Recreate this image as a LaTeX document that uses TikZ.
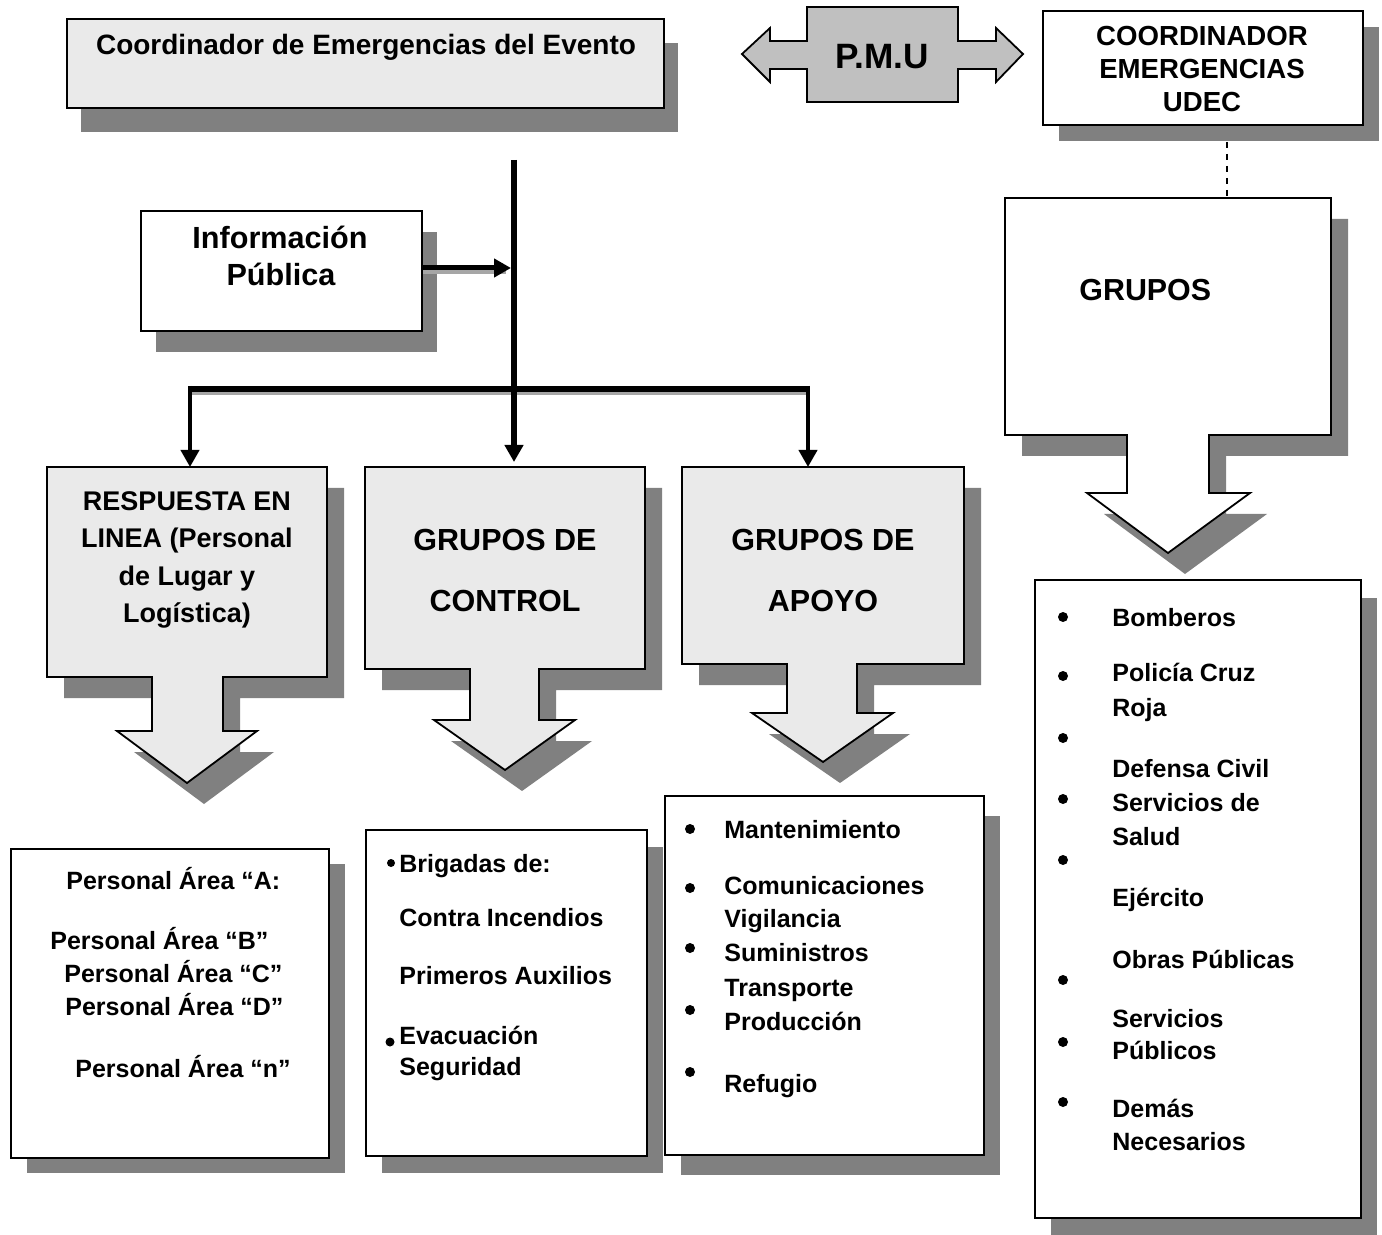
\documentclass[tikz,border=0pt]{standalone}
\usepackage{fontspec}
\setmainfont{Liberation Sans}
\usetikzlibrary{arrows.meta, shadows, calc}
\definecolor{boxgray}{HTML}{EAEAEA}
\definecolor{pmugray}{HTML}{C0C0C0}
\definecolor{shadowgray}{HTML}{808080}
\tikzstyle{conn}=[line width=2pt, -{Triangle[length=8.5pt, width=9pt]}, color=black]
\newcommand{\fsz}[1]{\bfseries\fontsize{#1}{#1}\selectfont}

\begin{document}
\begin{tikzpicture}[x=0.5pt, y=-0.5pt,
  frame/.style={rectangle, draw=black, line width=0.9pt, fill=white, inner sep=0, anchor=north west},
  shade/.style 2 args={drop shadow={shadow xshift=#1, shadow yshift=#2, fill=shadowgray, opacity=1}},
  lshade/.style={draw=black!35, line width=2.5pt},
  item/.style={font=\fsz{12.5}, inner sep=0, anchor=base west},
  hdr/.style={font=\fsz{#1}, inner sep=0, anchor=base},
  dot/.style={circle, fill=black, inner sep=0, minimum size=5pt}
]
\useasboundingbox (0,0) rectangle (1382,1235);

% top row
\node[frame, fill=boxgray, shade={7pt}{-12pt}, minimum width=298.5pt, minimum height=44.5pt] (evento) at (66,18) {};
\node[hdr=14] (evento-t) at (366,55) {Coordinador de Emergencias del Evento};

\draw[line width=0.9pt, fill=pmugray] (742,54) -- (770,28) -- (770,41) -- (807,41) -- (807,7)
  -- (958,7) -- (958,41) -- (996,41) -- (996,28) -- (1023,54) -- (996,82) -- (996,69)
  -- (958,69) -- (958,102) -- (807,102) -- (807,69) -- (770,69) -- (770,82) -- cycle;
\node[hdr=17.6] (pmu) at (882,69) {P.M.U};

\node[frame, shade={8pt}{-8pt}, minimum width=160pt, minimum height=57pt] (udec) at (1042,10) {};
\node[hdr=13.8] (udec-1) at (1202,46) {COORDINADOR};
\node[hdr=13.8] (udec-2) at (1202,79) {EMERGENCIAS};
\node[hdr=13.8] (udec-3) at (1202,112) {UDEC};

\node[frame, shade={7.5pt}{-10.5pt}, minimum width=140.5pt, minimum height=60pt] (info) at (140,210) {};
\node[hdr=15.3] (info-1) at (280,249) {Información};
\node[hdr=15.3] (info-2) at (281,286) {Pública};

% callouts with down arrows
\foreach \xa/\ya/\xb/\yb/\sl/\sr/\hy/\hl/\hr/\tx/\ty/\col [count=\i] in {
    47/467/327/677/152/223/731/117/257/187/783/boxgray,
    365/467/645/669/470/539/720/434/575/505/770/boxgray,
    682/467/964/664/787/857/713/752/893/823/762/boxgray,
    1005/198/1331/435/1127/1209/493/1087/1250/1168/553/white}{
  \fill[shadowgray, shift={(17,21)}] (\xa,\ya) -- (\xb,\ya) -- (\xb,\yb) -- (\sr,\yb) -- (\sr,\hy)
    -- (\hr,\hy) -- (\tx,\ty) -- (\hl,\hy) -- (\sl,\hy) -- (\sl,\yb) -- (\xa,\yb) -- cycle;
  \draw[line width=0.9pt, fill=\col] (\xa,\ya) -- (\xb,\ya) -- (\xb,\yb) -- (\sr,\yb) -- (\sr,\hy)
    -- (\hr,\hy) -- (\tx,\ty) -- (\hl,\hy) -- (\sl,\hy) -- (\sl,\yb) -- (\xa,\yb) -- cycle;
  \coordinate (cout-\i) at ({(\xa+\xb)/2},\ya);
}
\node[hdr=13.5] (resp-1) at (187,510) {RESPUESTA EN};
\node[hdr=13.5] (resp-2) at (187,547) {LINEA (Personal};
\node[hdr=13.5] (resp-3) at (187,585) {de Lugar y};
\node[hdr=13.5] (resp-4) at (187,622) {Logística)};
\node[hdr=15.25] (ctrl-1) at (505,551) {GRUPOS DE};
\node[hdr=15.25] (ctrl-2) at (505,611) {CONTROL};
\node[hdr=15.25] (apoyo-1) at (823,551) {GRUPOS DE};
\node[hdr=15.25] (apoyo-2) at (823,611) {APOYO};
\node[hdr=15.2, anchor=base west] (grupos) at (1079,301) {GRUPOS};

% connectors
\coordinate (trunk) at (514,160);
\coordinate (barL) at (190,389);
\coordinate (barR) at (808,389);
\draw[lshade] ([yshift=-2pt]barL) -- ([yshift=-2pt]barR);
\draw[lshade] ([yshift=-2pt]info.east |- 0,268) -- ([xshift=-4pt, yshift=-2pt]trunk |- 0,268);
\draw[conn, line width=3pt, shorten >=2.5pt] (trunk) -- (trunk |- cout-2);
\draw[line width=3pt] (barL) -- (barR);
\draw[conn] ([yshift=1.5pt]barL) -- (barL |- cout-1);
\draw[conn] ([yshift=1.5pt]barR) -- (barR |- cout-3);
\draw[conn, line width=2.5pt, shorten >=1.5pt] (info.east |- 0,268) -- (trunk |- 0,268);
\draw[dashed, line width=0.6pt] ([xshift=12pt, yshift=-8pt]udec.south) -- ([xshift=12pt]udec.south |- cout-4);

% lists
\node[frame, shade={8pt}{-7.5pt}, minimum width=159pt, minimum height=154.5pt] (lugar) at (10,848) {};
\foreach \t/\x/\y [count=\i] in {Personal Área “A:/66/889, Personal Área “B”/50/949,
    Personal Área “C”/64/982, Personal Área “D”/65/1015, Personal Área “n”/75/1077}
  \node[item] (lugar-\i) at (\x,\y) {\t};

\node[frame, shade={8pt}{-8.5pt}, minimum width=140.5pt, minimum height=163pt] (control) at (365,829) {};
\node[dot, minimum size=4pt] (control-b1) at (391,863) {};
\node[dot, minimum size=4.5pt] (control-b2) at (390,1042) {};
\foreach \t/\y [count=\i] in {Brigadas de:/872, Contra Incendios/926, Primeros Auxilios/984,
    Evacuación/1044, Seguridad/1075}
  \node[item] (control-\i) at (399,\y) {\t};

\node[frame, shade={8pt}{-10pt}, minimum width=159.5pt, minimum height=179.5pt] (apoyo) at (664,795) {};
\foreach \y [count=\i] in {829,888,948,1010,1072}
  \node[dot] (apoyo-b\i) at (690,\y) {};
\foreach \t/\y [count=\i] in {Mantenimiento/838, Comunicaciones/894, Vigilancia/927,
    Suministros/961, Transporte/996, Producción/1030, Refugio/1092}
  \node[item] (apoyo-\i) at (724,\y) {\t};

\node[frame, shade={8pt}{-9pt}, minimum width=163pt, minimum height=319pt] (externos) at (1034,579) {};
\foreach \y [count=\i] in {617,676,738,799,860,980,1042,1102}
  \node[dot] (externos-b\i) at (1063,\y) {};
\foreach \t/\y [count=\i] in {Bomberos/626, Policía Cruz/681, Roja/716, Defensa Civil/777,
    Servicios de/811, Salud/845, Ejército/906, Obras Públicas/968, Servicios/1027,
    Públicos/1059, Demás/1117, Necesarios/1150}
  \node[item] (externos-\i) at (1112,\y) {\t};
\end{tikzpicture}
\end{document}
